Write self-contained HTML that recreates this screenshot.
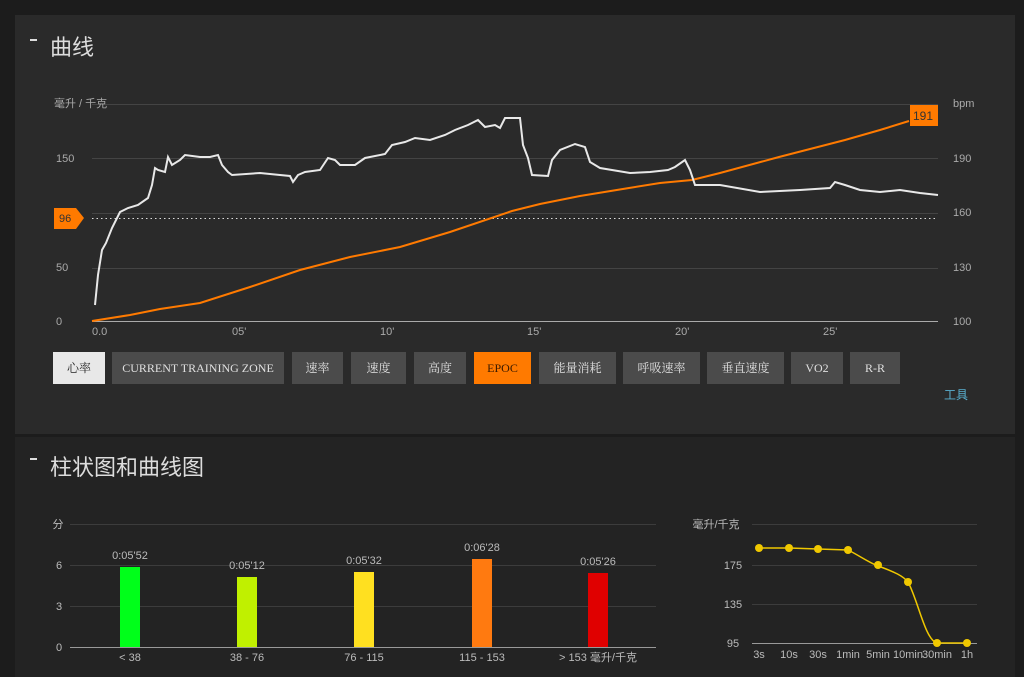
<!DOCTYPE html>
<html><head><meta charset="utf-8"><style>
body{margin:0;width:1024px;height:668px;background:#1c1c1c;overflow:hidden;font-family:"Liberation Sans","Noto Sans CJK SC",sans-serif}
.p1{position:absolute;left:15px;top:15px;width:1000px;height:419px;background:#2a2a2a}
.p2{position:absolute;left:15px;top:437px;width:1000px;height:240px;background:#232323}
.btn{position:absolute;top:352px;height:32px;line-height:32px;text-align:center;background:#4b4b4b;color:#e0e0e0;font-family:"Liberation Serif","Noto Serif CJK SC",serif;font-size:12px}
svg{position:absolute;left:0;top:0}
</style></head><body>
<div class="p1"></div><div class="p2"></div>
<div class="btn" style="left:53px;width:52px;background:#e8e8e8;color:#222">心率</div>
<div class="btn" style="left:112px;width:172px">CURRENT TRAINING ZONE</div>
<div class="btn" style="left:292px;width:51px">速率</div>
<div class="btn" style="left:351px;width:55px">速度</div>
<div class="btn" style="left:414px;width:52px">高度</div>
<div class="btn" style="left:474px;width:57px;background:#ff7a00;color:#3a1a00">EPOC</div>
<div class="btn" style="left:539px;width:77px">能量消耗</div>
<div class="btn" style="left:623px;width:77px">呼吸速率</div>
<div class="btn" style="left:707px;width:77px">垂直速度</div>
<div class="btn" style="left:791px;width:52px">VO2</div>
<div class="btn" style="left:850px;width:50px">R-R</div>
<svg width="1024" height="668" font-family="Liberation Sans, Noto Sans CJK SC, sans-serif">
<g fill="#ddd"><rect x="30" y="39" width="7" height="2"/><rect x="30" y="458" width="7" height="2"/></g>
<text x="50" y="55" font-size="22" fill="#ddd">曲线</text>
<text x="50" y="475" font-size="22" fill="#ddd">柱状图和曲线图</text>
<text x="944" y="399" font-size="12" fill="#5ab0d0">工具</text>
<g stroke="#444" stroke-width="1">
<line x1="92" y1="104.5" x2="938" y2="104.5"/><line x1="92" y1="158.5" x2="938" y2="158.5"/><line x1="92" y1="213.5" x2="938" y2="213.5"/><line x1="92" y1="268.5" x2="938" y2="268.5"/>
</g>
<line x1="92" y1="321.5" x2="938" y2="321.5" stroke="#aaa"/>
<line x1="92" y1="218.5" x2="938" y2="218.5" stroke="#ddd" stroke-dasharray="1.5,3"/>
<g font-size="11" fill="#aaa">
<text x="54" y="107">毫升 / 千克</text>
<text x="56" y="162">150</text><text x="56" y="271">50</text><text x="56" y="325">0</text>
<text x="953" y="107">bpm</text><text x="953" y="162">190</text><text x="953" y="216">160</text><text x="953" y="271">130</text><text x="953" y="325">100</text>
<text x="92" y="335">0.0</text><text x="232" y="335">05'</text><text x="380" y="335">10'</text><text x="527" y="335">15'</text><text x="675" y="335">20'</text><text x="823" y="335">25'</text>
</g>
<polyline fill="none" stroke="#ff7a00" stroke-width="2" points="92,321 130,315 160,309 200,303 250,287 300,270 350,257 400,247 450,232 512,211 540,204 580,196 629,188 660,183 692,180 720,173 779,157 845,140 880,130 909,121"/>
<polyline fill="none" stroke="#e8e8e8" stroke-width="2" points="95,305 98,275 102,250 106,243 112,228 120,212 128,208 138,205 148,198 152,185 155,168 158,170 165,172 168,157 172,165 180,160 185,155 200,157 210,157 218,155 222,165 228,172 232,175 260,173 280,175 290,176 293,182 298,175 305,172 320,170 328,158 335,160 340,165 355,165 365,158 385,154 392,145 405,142 415,138 430,140 445,135 455,130 468,125 478,120 485,127 495,125 500,128 505,118 520,118 523,145 528,158 532,175 548,176 552,160 560,150 575,144 585,147 590,162 600,168 612,170 630,173 650,172 668,170 675,167 685,160 690,170 695,185 720,185 760,192 800,190 830,188 835,182 845,185 860,190 880,192 900,190 920,193 938,195"/>
<path d="M54,208 H76 L84,218 L76,229 H54 Z" fill="#ff7a00"/>
<text x="59" y="222" font-size="11" fill="#333">96</text>
<rect x="910" y="105" width="28" height="21" fill="#ff7a00"/>
<text x="913" y="120" font-size="12" fill="#333">191</text>
<g stroke="#3c3c3c"><line x1="70" y1="524.5" x2="656" y2="524.5"/><line x1="70" y1="565.5" x2="656" y2="565.5"/><line x1="70" y1="606.5" x2="656" y2="606.5"/>
<line x1="752" y1="524.5" x2="977" y2="524.5"/><line x1="752" y1="565.5" x2="977" y2="565.5"/><line x1="752" y1="604.5" x2="977" y2="604.5"/></g>
<line x1="70" y1="647.5" x2="656" y2="647.5" stroke="#999"/>
<line x1="752" y1="643.5" x2="977" y2="643.5" stroke="#999"/>
<rect x="120" y="567" width="20" height="80" fill="#00ff1a"/>
<rect x="237" y="577" width="20" height="70" fill="#c0f000"/>
<rect x="354" y="572" width="20" height="75" fill="#ffe020"/>
<rect x="472" y="559" width="20" height="88" fill="#ff7a10"/>
<rect x="588" y="573" width="20" height="74" fill="#e00000"/>
<g font-size="11" fill="#bbb" text-anchor="middle">
<text x="130" y="559">0:05'52</text><text x="247" y="569">0:05'12</text><text x="364" y="564">0:05'32</text><text x="482" y="551">0:06'28</text><text x="598" y="565">0:05'26</text>
<text x="130" y="661">&lt; 38</text><text x="247" y="661">38 - 76</text><text x="364" y="661">76 - 115</text><text x="482" y="661">115 - 153</text><text x="598" y="661">&gt; 153 毫升/千克</text>
<text x="58" y="528">分</text><text x="59" y="569">6</text><text x="59" y="610">3</text><text x="59" y="651">0</text>
<text x="716" y="528">毫升/千克</text><text x="733" y="569">175</text><text x="733" y="608">135</text><text x="733" y="647">95</text>
<text x="759" y="658">3s</text><text x="789" y="658">10s</text><text x="818" y="658">30s</text><text x="848" y="658">1min</text><text x="878" y="658">5min</text><text x="908" y="658">10min</text><text x="937" y="658">30min</text><text x="967" y="658">1h</text>
</g>
<path d="M759,548 L789,548 L818,549 L848,550 C860,556 868,562 878,566 C895,572 903,576 908,582 C918,600 925,640 937,643 L967,643" fill="none" stroke="#f0c800" stroke-width="1.5"/>
<g fill="#f0c800"><circle cx="759" cy="548" r="4"/><circle cx="789" cy="548" r="4"/><circle cx="818" cy="549" r="4"/><circle cx="848" cy="550" r="4"/><circle cx="878" cy="565" r="4"/><circle cx="908" cy="582" r="4"/><circle cx="937" cy="643" r="4"/><circle cx="967" cy="643" r="4"/></g>
</svg>
</body></html>
